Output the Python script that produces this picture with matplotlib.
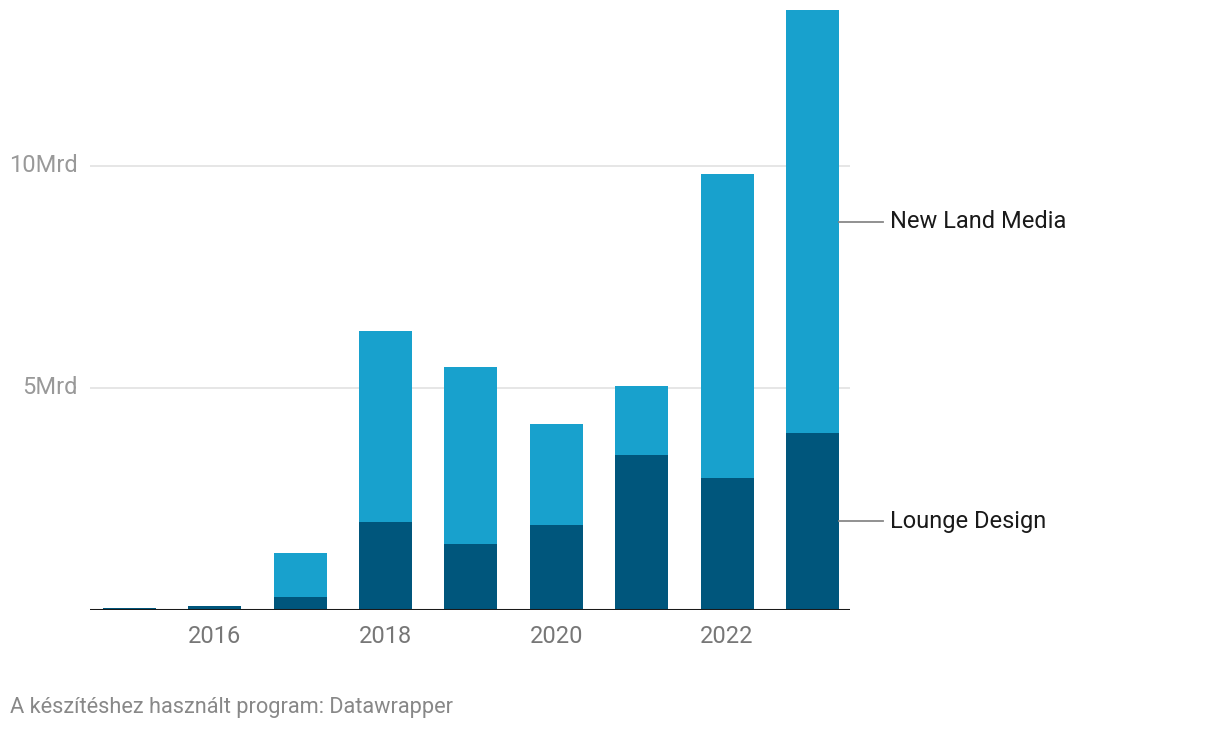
import numpy as np
import matplotlib
matplotlib.use("Agg")
import matplotlib.pyplot as plt

plt.rcParams['font.family'] = ['Roboto', 'DejaVu Sans']

years = [2015, 2016, 2017, 2018, 2019, 2020, 2021, 2022, 2023]
lounge = [0.04, 0.08, 0.29, 1.98, 1.49, 1.91, 3.49, 2.97, 3.99]
newland = [0.0, 0.0, 0.99, 4.30, 3.98, 2.28, 1.56, 6.83, 9.50]
series_names = ['Lounge Design', 'New Land Media']
xtick_years = [2016, 2018, 2020, 2022]
ytick_vals = [5, 10]
ytick_labels = ['5Mrd', '10Mrd']

dark = '#00567c'
light = '#18a1cd'

fig = plt.figure(figsize=(12.2, 7.32), dpi=100)
ax = fig.add_axes([90/1220, 1 - 610/732, 760/1220, 600/732])

x = np.array(years)
lounge = np.array(lounge)
newland = np.array(newland)
w = 0.62
ax.bar(x, lounge, width=w, color=dark, zorder=3)
ax.bar(x, newland, width=w, bottom=lounge, color=light, zorder=3)

ax.set_xlim(2014.54, 2023.44)
ax.set_ylim(0, 13.5)

for v in ytick_vals:
    ax.axhline(v, color='#e2e2e2', lw=1.2, zorder=1)
ax.axhline(0, color='#1a1a1a', lw=2.2, zorder=4)

for s in ax.spines.values():
    s.set_visible(False)
ax.set_yticks([])
ax.set_xticks(xtick_years)
ax.set_xticklabels([str(y) for y in xtick_years], fontsize=17, color='#777777')
ax.tick_params(axis='x', length=0, pad=11)

# y labels sit left of the plot, centred on the gridlines
for v, lab in zip(ytick_vals, ytick_labels):
    fig.text(78/1220, ax.transData.transform((0, v))[1] / 732, lab,
             ha='right', va='center', fontsize=17, color='#999999')

# direct labels for last bar
last = len(years) - 1
xr = x[last] + w / 2
mids = [lounge[last] / 2, lounge[last] + newland[last] / 2]
for name, m in zip(series_names, mids):
    ax.plot([xr, xr + 44/85.4], [m, m], color='#888888', lw=1.3, clip_on=False, zorder=5)
    ax.text(xr + 51/85.4, m, name, ha='left', va='center', fontsize=17, color='#1a1a1a')

fig.text(10/1220, 1 - 708/732, 'A készítéshez használt program: Datawrapper',
         ha='left', va='center', fontsize=15.7, color='#888888')

fig.savefig('out.png', dpi=100)
